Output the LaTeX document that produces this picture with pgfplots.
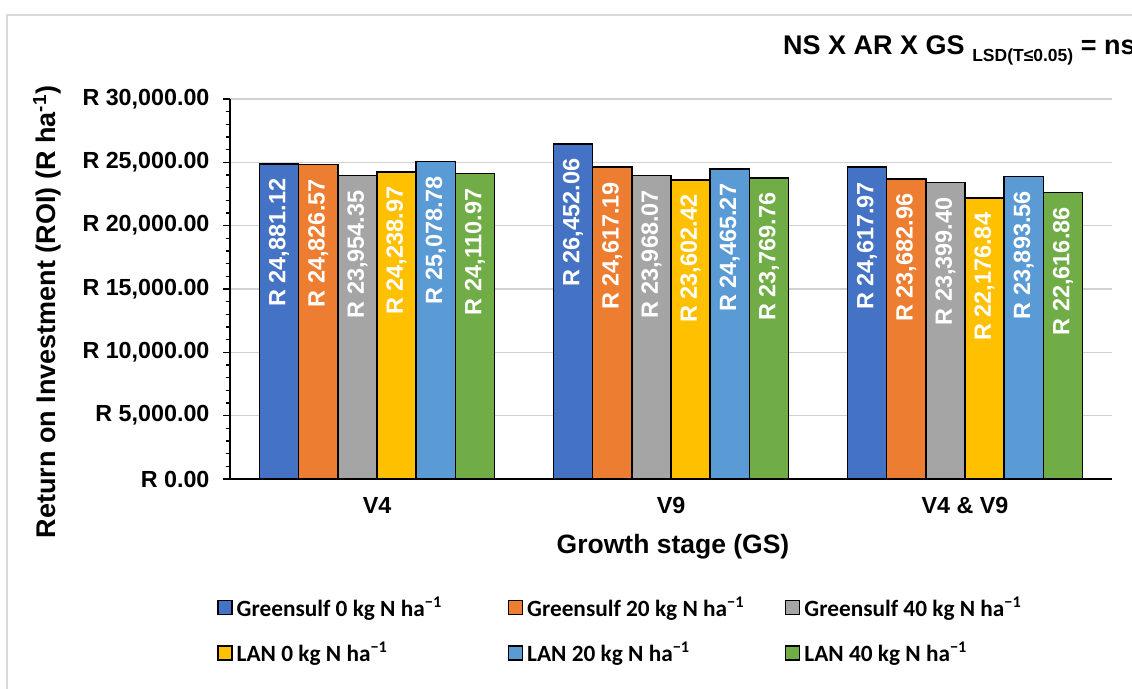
\documentclass[border=0pt]{standalone}
\usepackage{pgfplots}
\pgfplotsset{compat=1.18}
\usepackage{fontspec}
\setmainfont{Liberation Sans}
\newfontfamily\calfont{Carlito}

\definecolor{cblue}{HTML}{4472C4}
\definecolor{corange}{HTML}{ED7D31}
\definecolor{cgray}{HTML}{A5A5A5}
\definecolor{cyellow}{HTML}{FFC000}
\definecolor{clblue}{HTML}{5B9BD5}
\definecolor{cgreen}{HTML}{70AD47}

\begin{document}
\begin{tikzpicture}
\useasboundingbox (0pt,0pt) rectangle (1132pt,688pt);
% chart area frame (runs off the right and bottom edge)
\draw[black!15, line width=1.2pt] (7pt,-20pt) -- (7pt,673pt) -- (1150pt,673pt);

\begin{axis}[
  at={(230pt,209pt)}, anchor=south west,
  width=882pt, height=380pt, scale only axis,
  ybar=0pt, bar width=39.2pt,
  xmin=-0.5, xmax=2.5,
  ymin=0, ymax=30000,
  scaled y ticks=false,
  xtick={0,1,2},
  xticklabels={V4, V9, V4 \& V9},
  xtick style={draw=none},
  ytick={0,5000,10000,15000,20000,25000,30000},
  yticklabels={R 0.00, R 5{,}000.00, R 10{,}000.00, R 15{,}000.00, R 20{,}000.00, R 25{,}000.00, R 30{,}000.00},
  minor y tick num=4,
  tick align=outside,
  major tick length=7pt, minor tick length=4pt,
  ytick style={black, line width=1.3pt},
  axis x line*=bottom, axis y line*=left,
  axis line style={black, line width=1.5pt},
  ymajorgrids, grid style={black!18, line width=1.2pt},
  ticklabel style={font=\bfseries\fontsize{23.3}{23.3}\selectfont},
  xticklabel style={yshift=-8pt},
  yticklabel style={xshift=-10pt},
  every axis plot/.append style={draw=black, line width=1.5pt},
  point meta=explicit symbolic,
  nodes near coords,
  nodes near coords style={font=\bfseries\fontsize{23.5}{23.5}\selectfont, text=white,
    rotate=90, anchor=east, inner xsep=14pt},
  legend columns=3,
  legend cell align=left,
  legend style={at={(-0.018,-0.30)}, anchor=north west, draw=none, fill=none,
    font=\calfont\bfseries\fontsize{23.3}{23.3}\selectfont, row sep=20pt,
    /tikz/column 2/.append style={column sep=64pt},
    /tikz/column 4/.append style={column sep=39pt}},
  legend image code/.code={\draw[#1, line width=1.3pt] (0pt,-7pt) rectangle (14pt,7pt);
    \path (16pt,0pt);},
  clip=false,
]
\addplot[fill=cblue] coordinates {(0,24881.12) [R 24,881.12] (1,26452.06) [R 26,452.06] (2,24617.97) [R 24,617.97]};
\addlegendentry{Greensulf 0 kg N ha\textsuperscript{−1}}
\addplot[fill=corange] coordinates {(0,24826.57) [R 24,826.57] (1,24617.19) [R 24,617.19] (2,23682.96) [R 23,682.96]};
\addlegendentry{Greensulf 20 kg N ha\textsuperscript{−1}}
\addplot[fill=cgray] coordinates {(0,23954.35) [R 23,954.35] (1,23968.07) [R 23,968.07] (2,23399.40) [R 23,399.40]};
\addlegendentry{Greensulf 40 kg N ha\textsuperscript{−1}}
\addplot[fill=cyellow] coordinates {(0,24238.97) [R 24,238.97] (1,23602.42) [R 23,602.42] (2,22176.84) [R 22,176.84]};
\addlegendentry{LAN 0 kg N ha\textsuperscript{−1}}
\addplot[fill=clblue] coordinates {(0,25078.78) [R 25,078.78] (1,24465.27) [R 24,465.27] (2,23893.56) [R 23,893.56]};
\addlegendentry{LAN 20 kg N ha\textsuperscript{−1}}
\addplot[fill=cgreen] coordinates {(0,24110.97) [R 24,110.97] (1,23769.76) [R 23,769.76] (2,22616.86) [R 22,616.86]};
\addlegendentry{LAN 40 kg N ha\textsuperscript{−1}}
\end{axis}

\node[anchor=base west, inner sep=0pt] at (783pt,633pt)
  {\bfseries\fontsize{27}{27}\selectfont NS X AR X GS \raisebox{-7pt}{\fontsize{17.5}{17.5}\selectfont LSD(T≤0.05)} = ns};
\node[rotate=90, inner sep=0pt] at (47pt,376pt)
  {\bfseries\fontsize{27}{27}\selectfont Return on Investment (ROI) (R ha\textsuperscript{-1})};
\node[inner sep=0pt] at (673pt,141pt)
  {\bfseries\fontsize{26.5}{26.5}\selectfont Growth stage (GS)};
\end{tikzpicture}
\end{document}
